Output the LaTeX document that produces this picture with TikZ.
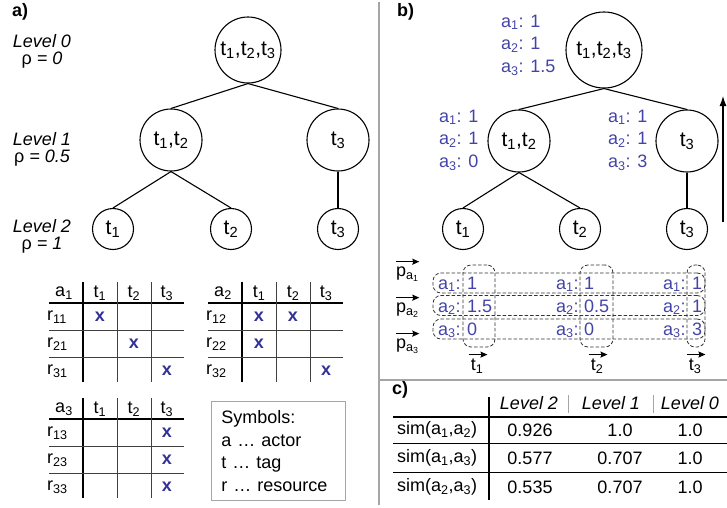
\documentclass[tikz,border=0pt]{standalone}
\usepackage{fontspec}
\setmainfont{Liberation Sans}
\usetikzlibrary{positioning,arrows.meta}
\definecolor{valblue}{RGB}{68,68,168}
\definecolor{xblue}{RGB}{50,50,150}
\definecolor{rulegray}{RGB}{165,165,165}
\newcommand{\sub}[1]{\textsubscript{#1}}
\tikzset{
	txt/.style={inner sep=0pt,font=\fontsize{18}{22.5}\selectfont},
	lvl/.style={inner sep=0pt,font=\fontsize{18}{22}\selectfont\itshape},
	tag/.style={inner sep=0pt,font=\fontsize{18}{22}\selectfont\bfseries},
	tnode/.style={draw,circle,line width=1.1pt,inner sep=0pt,font=\fontsize{21}{25}\selectfont},
	edge/.style={line width=1.1pt},
	vecarrow/.style={line width=1.2pt,-{Stealth[length=7pt,width=6pt,inset=1pt]}},
	vals/.style={txt,text=valblue},
	xmark/.style={inner sep=0pt,text=xblue,font=\fontsize{18}{20}\selectfont\bfseries},
	pill/.style={draw=black!80,dashed,dash pattern=on 3.5pt off 2pt,line width=0.8pt,rounded corners=8pt,inner sep=0pt},
	thickrule/.style={line width=2.3pt},
	thinrule/.style={line width=0.7pt,black!75},
	panelrule/.style={line width=1.4pt,rulegray}
}
\begin{document}
\begin{tikzpicture}[x=1pt,y=-1pt]
	\useasboundingbox (0,0) rectangle (727,507);
	\draw[panelrule] (379,2) -- (379,505);
	\draw[panelrule] (379,380) -- (727,380);
	% a)
	\node[tag,anchor=west] (laba) at (12,12) {a)};
	\foreach \l/\r/\y in {0/0/41, 1/0.5/139, 2/1/226} {
		\node[lvl] (lev\l) at (42,\y) {Level \l};
		\node[lvl] (rho\l) at (42,\y+19) {{\upshape ρ} = \r};
	}
	\node[tnode,minimum size=66pt] (aroot) at (248,50) {t\sub1,t\sub2,t\sub3};
	\node[tnode,minimum size=62pt] (at12) at (171,140) {t\sub1,t\sub2};
	\node[tnode,minimum size=62pt] (at3) at (338,140) {t\sub3};
	\node[tnode,minimum size=41pt] (aleaf1) at (113,229) {t\sub1};
	\node[tnode,minimum size=41pt] (aleaf2) at (231,229) {t\sub2};
	\node[tnode,minimum size=41pt] (aleaf3) at (338,229) {t\sub3};
	\draw[edge] (aroot.south) -- (at12.north);
	\draw[edge] (aroot.south) -- (at3.north);
	\draw[edge] (at12.south) -- (aleaf1.north);
	\draw[edge] (at12.south) -- (aleaf2.north);
	\draw[edge] (at3.south) -- (aleaf3.north);
	\foreach \tn/\dx/\dy in {1/0/0, 2/159/0, 3/0/116} {
		\begin{scope}[shift={(\dx,\dy)}]
			\draw[thickrule] (83,282) -- (83,382);
			\draw[thickrule] (49,303) -- (184,303);
			\draw[thinrule] (117,282) -- (117,382);
			\draw[thinrule] (151,282) -- (151,382);
			\draw[thinrule] (49,330) -- (184,330);
			\draw[thinrule] (49,357) -- (184,357);
			\node[txt] (a\tn) at (64,293) {a\sub{\tn}};
			\foreach \c/\cx in {1/100, 2/134, 3/167}
				\node[txt] (a\tn t\c) at (\cx,293) {t\sub{\c}};
			\foreach \r/\ry in {1/317, 2/344, 3/371}
				\node[txt,anchor=west] (r\r\tn) at (47,\ry) {r\sub{\r\tn}};
		\end{scope}
	}
	\foreach \tn/\r/\c in {1/1/1, 1/2/2, 1/3/3, 2/1/1, 2/1/2, 2/2/1, 2/3/3, 3/1/3, 3/2/3, 3/3/3}
		\node[xmark] (x\tn\r\c) at (a\tn t\c |- r\r\tn) {x};
	\node[draw=rulegray,line width=0.9pt,anchor=north west,minimum width=134pt,minimum height=99pt,
		inner xsep=10pt,text width=114pt,align=left,txt] (symbols) at (211,401)
		{Symbols:\\a … actor\\t … tag\\r … resource};
	% b)
	\node[tag,anchor=west] (labb) at (397,12) {b)};
	\node[tnode,minimum size=76pt] (broot) at (604,50) {t\sub1,t\sub2,t\sub3};
	\node[tnode,minimum size=62pt] (bt12) at (519,141) {t\sub1,t\sub2};
	\node[tnode,minimum size=62pt] (bt3) at (687,141) {t\sub3};
	\node[tnode,minimum size=41pt] (bleaf1) at (463,229) {t\sub1};
	\node[tnode,minimum size=41pt] (bleaf2) at (580,229) {t\sub2};
	\node[tnode,minimum size=41pt] (bleaf3) at (687,229) {t\sub3};
	\draw[edge] (broot.south) -- (bt12.north);
	\draw[edge] (broot.south) -- (bt3.north);
	\draw[edge] (bt12.south) -- (bleaf1.north);
	\draw[edge] (bt12.south) -- (bleaf2.north);
	\draw[edge] (bt3.south) -- (bleaf3.north);
	\node[vals,anchor=west,align=left] (rootvals) at (501,45) {a\sub1: 1\\a\sub2: 1\\a\sub3: 1.5};
	\node[vals,anchor=west,align=left] (t12vals) at (439,140) {a\sub1: 1\\a\sub2: 1\\a\sub3: 0};
	\node[vals,anchor=west,align=left] (t3vals) at (608,140) {a\sub1: 1\\a\sub2: 1\\a\sub3: 3};
	\coordinate (upbot) at (723,222);
	\coordinate (uptop) at (723,96);
	\draw[line width=1.1pt,-{Latex[length=10pt,width=7pt]}] (upbot) -- (uptop);
	\foreach \i/\y in {1/274, 2/310, 3/346} {
		\node[txt,anchor=west] (pa\i) at (396,\y) {p\sub{a\sub{\i}}};
		\draw[vecarrow] ([yshift=5pt]pa\i.north west) -- ([yshift=5pt]pa\i.north east);
	}
	\foreach \i/\x in {1/477, 2/597, 3/695} {
		\node[txt] (tv\i) at (\x,366) {t\sub{\i}};
		\draw[vecarrow] ([yshift=4pt,xshift=-2pt]tv\i.north west) -- ([yshift=4pt,xshift=4pt]tv\i.north east);
	}
	\foreach \r/\y/\va/\vb/\vc in {1/289/1/1/1, 2/312/1.5/0.5/1, 3/335/0/0/3} {
		\node[vals,anchor=base west] (la\r) at (438,\y) {a\sub{\r}:};
		\node[vals,anchor=base west] (va\r) at (467,\y) {\va};
		\node[vals,anchor=base west] (lb\r) at (556,\y) {a\sub{\r}:};
		\node[vals,anchor=base west] (vb\r) at (584,\y) {\vb};
		\node[vals,anchor=base west] (lc\r) at (663,\y) {a\sub{\r}:};
		\node[vals,anchor=base west] (vc\r) at (692,\y) {\vc};
	}
	\foreach \r/\y in {1/283, 2/305.5, 3/329}
		\node[pill,minimum width=272pt,minimum height=20pt] (prow\r) at (569,\y) {};
	\foreach \c/\x/\w in {1/479/32, 2/596.5/33, 3/696/18}
		\node[pill,minimum width=\w pt,minimum height=82pt] (pcol\c) at (\x,306) {};
	% c)
	\node[tag,anchor=west] (labc) at (392,390) {c)};
	\draw[thickrule] (393,417) -- (727,417);
	\draw[thickrule] (489,397) -- (489,500);
	\draw[thinrule,rulegray] (568,395) -- (568,413);
	\draw[thinrule,rulegray] (653,395) -- (653,413);
	\draw[thinrule,black] (393,443) -- (727,443);
	\draw[thinrule,black] (393,472) -- (727,472);
	\foreach \l/\x in {2/529, 1/611, 0/690}
		\node[lvl] (head\l) at (\x,403) {Level \l};
	\foreach \i/\j/\y/\va/\vb/\vc in {1/2/430/0.926/1.0/1.0, 1/3/458/0.577/0.707/1.0, 2/3/487/0.535/0.707/1.0} {
		\node[txt,anchor=west] (sim\i\j) at (397,\y) {sim(a\sub{\i},a\sub{\j})};
		\node[txt] (simA\i\j) at (530,\y) {\va};
		\node[txt] (simB\i\j) at (620,\y) {\vb};
		\node[txt] (simC\i\j) at (690,\y) {\vc};
	}
\end{tikzpicture}
\end{document}
